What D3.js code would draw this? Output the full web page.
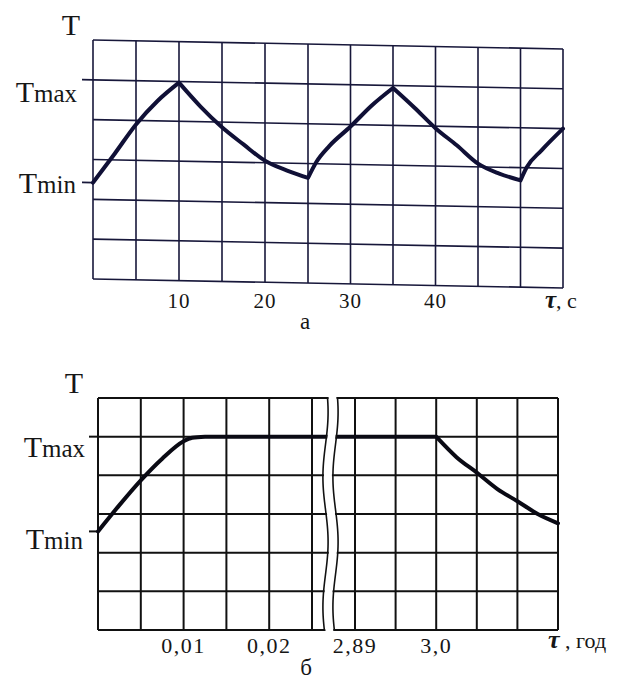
<!DOCTYPE html>
<html><head><meta charset="utf-8">
<script src="https://cdn.jsdelivr.net/npm/d3@7"></script>
<style>
body{margin:0;background:#fff}
svg{display:block}
text{font-family:"Liberation Serif","Times New Roman",serif;fill:#161616}
</style>
</head><body><svg id="c" width="622" height="686"></svg>
<script>
// ---- Chart а : temperature vs time, s ----
const tauA  = [0,2.5,5,7.5,10,12.5,15,17.5,20,22.5,25,26,27.5,30,32.5,35,37.5,40,42.5,45,47.5,50,50.7,52.5,55];
const tempA = [2.42,3.15,3.9,4.5,4.97,4.38,3.87,3.45,3.05,2.82,2.64,3.05,3.45,3.95,4.49,4.94,4.46,3.95,3.53,3.08,2.84,2.68,3.0,3.45,4.0];
const gridXA = [0,5,10,15,20,25,30,35,40,45,50,55];
const ticksA = [10,20,30,40];
const tickLabelsA = ["10","20","30","40"];
const levelNames = ["Tmax","Tmin"];
const levelsA = [5,2.42];
// ---- Chart б : temperature vs time, years (broken axis) ----
const tauB  = [0,0.0025,0.005,0.0075,0.01,0.011,0.0125,2.95,3.0,3.0275,3.055,3.0825,3.11,3.1375,3.165];
const tempB = [2.55,3.23,3.87,4.43,4.88,4.97,5,5,5,4.47,4.07,3.65,3.33,3.0,2.76];
const gridXB = [0,0.005,0.01,0.015,0.02,0.025,2.89,2.945,3.0,3.055,3.11,3.165];
const ticksB = [0.01,0.02,2.89,3.0];
const tickLabelsB = ["0,01","0,02","2,89","3,0"];
const levelsB = [5,2.55];
const gridY = [0,1,2,3,4,5,6];

const svg = d3.select("#c");
const gridCol = "#17173a", curveCol = "#101036";

// smooth each monotonic branch separately, keeping peaks/troughs sharp
function branchPath(pts){
  const sgn = v => Math.abs(v) < 1e-9 ? 0 : Math.sign(v);
  const cuts = [0];
  for (let i = 1; i < pts.length - 1; i++) {
    if (sgn(pts[i][1]-pts[i-1][1]) !== sgn(pts[i+1][1]-pts[i][1])) cuts.push(i);
  }
  cuts.push(pts.length - 1);
  const ln = d3.line().curve(d3.curveMonotoneX);
  let d = "";
  for (let k = 0; k < cuts.length - 1; k++) {
    const seg = ln(pts.slice(cuts[k], cuts[k+1] + 1));
    d += k === 0 ? seg : "L" + seg.slice(1);
  }
  return d;
}

// ===== Chart а =====
const xA = d3.scaleLinear().domain([0,25,55]).range([93,308,563]);
const yA = d3.scaleLinear().domain([0,6]).range([279,40]);
const gA = svg.append("g").attr("transform","translate(93,0) skewY(1.09) translate(-93,0)");
gA.selectAll("line.v").data(gridXA).join("line")
  .attr("x1",d=>xA(d)).attr("x2",d=>xA(d)).attr("y1",yA(6)).attr("y2",yA(0))
  .attr("stroke",gridCol).attr("stroke-width",1.6);
gA.selectAll("line.h").data(gridY).join("line")
  .attr("x1",xA(0)).attr("x2",xA(55)).attr("y1",d=>yA(d)).attr("y2",d=>yA(d))
  .attr("stroke",gridCol).attr("stroke-width",1.6);
gA.selectAll("line.t").data(levelsA).join("line")
  .attr("x1",82).attr("x2",xA(0)).attr("y1",d=>yA(d)).attr("y2",d=>yA(d))
  .attr("stroke",gridCol).attr("stroke-width",1.6);
gA.append("path")
  .attr("d",branchPath(tauA.map((t,i)=>[xA(t),yA(tempA[i])])))
  .attr("fill","none").attr("stroke",curveCol).attr("stroke-width",4)
  .attr("stroke-linejoin","round").attr("stroke-linecap","round");

function levelLabel(x,y,name){
  const t = svg.append("text").attr("x",x).attr("y",y).attr("text-anchor","end");
  t.append("tspan").attr("font-size",30).text(name[0]);
  t.append("tspan").attr("font-size",25).text(name.slice(1));
}
svg.append("text").attr("x",71).attr("y",35).attr("text-anchor","middle").attr("font-size",30).text("T");
levelLabel(77,102,levelNames[0]);
levelLabel(76,193,levelNames[1]);
svg.selectAll("text.xa").data(ticksA).join("text")
  .attr("x",d=>xA(d)).attr("y",308).attr("text-anchor","middle")
  .attr("font-size",21).attr("letter-spacing",1).text((d,i)=>tickLabelsA[i]);
const axA = svg.append("text").attr("x",545).attr("y",308);
axA.append("tspan").attr("font-size",25).attr("font-style","italic").attr("font-weight","bold").text("τ");
axA.append("tspan").attr("font-size",22).text(", с");
svg.append("text").attr("x",305).attr("y",329).attr("text-anchor","middle").attr("font-size",23).text("а");

// ===== Chart б =====
const xB = d3.scaleLinear().domain([0,0.025,2.89,3.165]).range([98,312,355,558]);
const yB = d3.scaleLinear().domain([0,6]).range([630,398]);
const gB = svg.append("g");
gB.selectAll("line.v").data(gridXB).join("line")
  .attr("x1",d=>xB(d)).attr("x2",d=>xB(d)).attr("y1",yB(6)).attr("y2",yB(0))
  .attr("stroke","#111").attr("stroke-width",2);
gB.selectAll("line.h").data(gridY).join("line")
  .attr("x1",xB(0)).attr("x2",xB(3.165)).attr("y1",d=>yB(d)).attr("y2",d=>yB(d))
  .attr("stroke","#111").attr("stroke-width",2);
gB.selectAll("line.t").data(levelsB).join("line")
  .attr("x1",89).attr("x2",xB(0)).attr("y1",d=>yB(d)).attr("y2",d=>yB(d))
  .attr("stroke","#111").attr("stroke-width",2);
gB.append("path")
  .attr("d",branchPath(tauB.map((t,i)=>[xB(t),yB(tempB[i])])))
  .attr("fill","none").attr("stroke","#0a0a14").attr("stroke-width",4)
  .attr("stroke-linejoin","round").attr("stroke-linecap","round");

// axis break symbol (two wavy lines with a white gap)
const mid = 325.5, gap = 10, amp = 2.6;
const ys = d3.range(yB(6)-1, yB(0)+2, 3);
const wave = ys.map(y=>[mid + amp*Math.sin(2*Math.PI*(y-398)/130 + 0.894), y]);
const band = wave.map(p=>[p[0]+1,p[1]]).concat(wave.slice().reverse().map(p=>[p[0]+gap-1,p[1]]));
gB.append("path").attr("d",d3.line()(band)+"Z").attr("fill","#fff").attr("stroke","none");
[0,gap].forEach(o=>{
  gB.append("path").attr("d",d3.line().curve(d3.curveBasis)(wave.map(p=>[p[0]+o,p[1]])))
    .attr("fill","none").attr("stroke","#111").attr("stroke-width",1.6);
});

svg.append("text").attr("x",74).attr("y",393).attr("text-anchor","middle").attr("font-size",30).text("T");
levelLabel(85,457,levelNames[0]);
levelLabel(83,549,levelNames[1]);
svg.selectAll("text.xb").data(ticksB).join("text")
  .attr("x",d=>xB(d)).attr("y",653).attr("text-anchor","middle")
  .attr("font-size",22).attr("letter-spacing",1.5).text((d,i)=>tickLabelsB[i]);
const axB = svg.append("text").attr("x",548).attr("y",648);
axB.append("tspan").attr("font-size",26).attr("font-style","italic").attr("font-weight","bold").text("τ");
axB.append("tspan").attr("font-size",22).text(" , год");
svg.append("text").attr("x",306).attr("y",675).attr("text-anchor","middle").attr("font-size",23).text("б");
</script></body></html>
